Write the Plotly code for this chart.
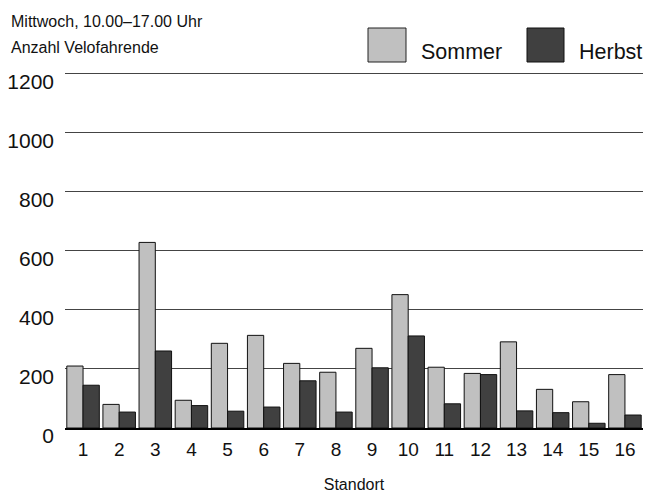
import plotly.graph_objects as go

standorte = [str(i) for i in range(1, 17)]
sommer = [210, 80, 629, 94, 287, 314, 219, 189, 270, 452, 206, 185, 292, 131, 89, 181]
herbst = [145, 54, 261, 76, 57, 71, 160, 54, 204, 312, 82, 181, 58, 52, 16, 44]
y_ticks = [0, 200, 400, 600, 800, 1000, 1200]

FONT = "Liberation Sans, Arial, sans-serif"
C_SOMMER = "#c0c0c0"
C_HERBST = "#404040"

fig = go.Figure()
fig.add_trace(go.Bar(x=standorte, y=sommer, name="Sommer",
                     marker=dict(color=C_SOMMER, line=dict(color="#111", width=1))))
fig.add_trace(go.Bar(x=standorte, y=herbst, name="Herbst",
                     marker=dict(color=C_HERBST, line=dict(color="#111", width=1))))

W, H = 647, 496
L, R, T, B = 65, 4, 71, 68
pw, ph = W - L - R, H - T - B

def px(x):
    return (x - L) / pw

def py(y):
    return (H - B - y) / ph

shapes = [
    dict(type="rect", xref="paper", yref="paper", x0=px(368), x1=px(406), y0=py(62), y1=py(28),
         fillcolor=C_SOMMER, line=dict(color="#222", width=1)),
    dict(type="rect", xref="paper", yref="paper", x0=px(527), x1=px(564), y0=py(62), y1=py(28),
         fillcolor=C_HERBST, line=dict(color="#111", width=1)),
]
annotations = [
    dict(text="Mittwoch, 10.00–17.00 Uhr", xref="paper", yref="paper", x=px(9), y=py(21),
         xanchor="left", yanchor="middle", showarrow=False, font=dict(size=16, color="#111", family=FONT)),
    dict(text="Anzahl Velofahrende", xref="paper", yref="paper", x=px(9), y=py(47),
         xanchor="left", yanchor="middle", showarrow=False, font=dict(size=16, color="#111", family=FONT)),
    dict(text="Sommer", xref="paper", yref="paper", x=px(419), y=py(52),
         xanchor="left", yanchor="middle", showarrow=False, font=dict(size=21.5, color="#111", family=FONT)),
    dict(text="Herbst", xref="paper", yref="paper", x=px(577), y=py(52),
         xanchor="left", yanchor="middle", showarrow=False, font=dict(size=21.5, color="#111", family=FONT)),
]

fig.update_layout(
    width=W, height=H,
    margin=dict(l=L, r=R, t=T, b=B, pad=0),
    paper_bgcolor="white", plot_bgcolor="white",
    barmode="group", bargap=0.1, bargroupgap=0,
    showlegend=False,
    font=dict(family=FONT, color="#111"),
    shapes=shapes, annotations=annotations,
    xaxis=dict(
        type="category", tickfont=dict(size=19, color="#111"),
        showgrid=False, showline=True, linecolor="#000", linewidth=2, ticks="",
        ticklabelstandoff=3,
        title=dict(text="Standort", font=dict(size=16, color="#111"), standoff=20),
    ),
    yaxis=dict(
        range=[0, 1210], tickvals=y_ticks, ticktext=[str(v) for v in y_ticks],
        tickfont=dict(size=21, color="#111"),
        showgrid=True, gridcolor="#444", gridwidth=1.2, zeroline=False,
        showline=False, ticks="", ticklabelstandoff=10, ticklabelshift=8,
    ),
)

fig.write_html(
    "out.html",
    config={"displayModeBar": False},
    post_script="document.body.style.margin='0';document.body.style.overflow='hidden';",
)
